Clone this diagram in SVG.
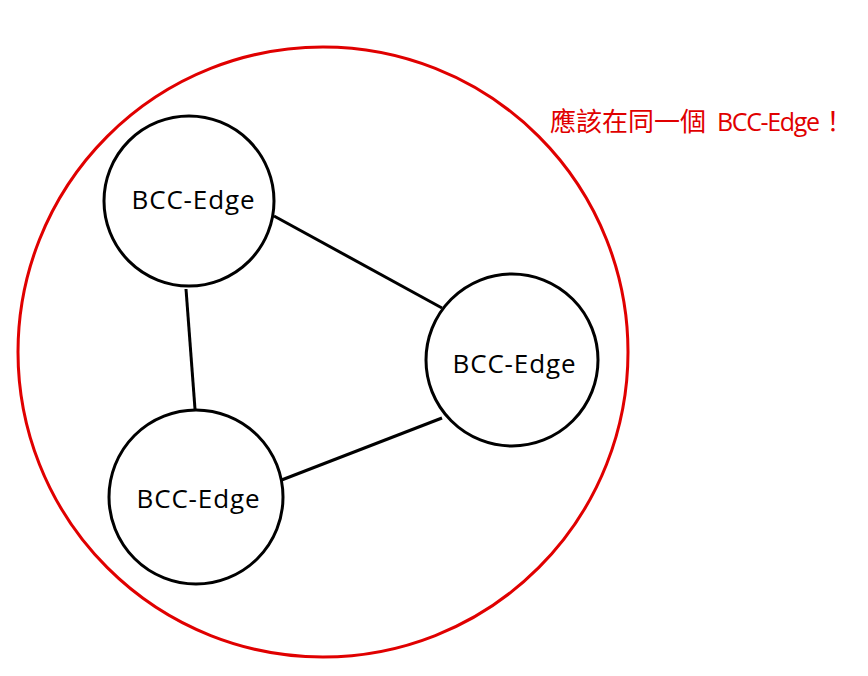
<svg xmlns="http://www.w3.org/2000/svg" width="868" height="676" viewBox="0 0 868 676">
<style>
.node{fill:#fff;stroke:#000;stroke-width:3}
.lbl{font-family:"Open Sans","Liberation Sans",sans-serif;font-size:26px;fill:#000;text-anchor:middle}
.edge{stroke:#000;stroke-width:3;fill:none}
.note{font-family:"Open Sans","Noto Sans CJK TC",sans-serif;font-size:26px;fill:#e00000}
</style>
<rect width="868" height="676" fill="#fff"/>
<g id="group">
<circle cx="323" cy="352" r="305" fill="none" stroke="#e00000" stroke-width="3"/>
</g>
<g id="connectors">
<line class="edge" x1="274" y1="216" x2="442" y2="308"/>
<line class="edge" x1="186" y1="289" x2="195" y2="409"/>
<line class="edge" x1="279" y1="481" x2="442" y2="418"/>
</g>
<g id="node1">
<circle class="node" cx="189" cy="201" r="85"/>
<text class="lbl" x="193" y="209" textLength="123">BCC-Edge</text>
</g>
<g id="node2">
<circle class="node" cx="512" cy="360" r="86"/>
<text class="lbl" x="514" y="373" textLength="123">BCC-Edge</text>
</g>
<g id="node3">
<circle class="node" cx="196" cy="497" r="87"/>
<text class="lbl" x="198" y="508" textLength="123">BCC-Edge</text>
</g>
<g id="note">
<text class="note" x="550" y="131">應該在同一個<tspan x="717" font-size="25" textLength="103">BCC-Edge</tspan><tspan x="820">！</tspan></text>
</g>
</svg>
